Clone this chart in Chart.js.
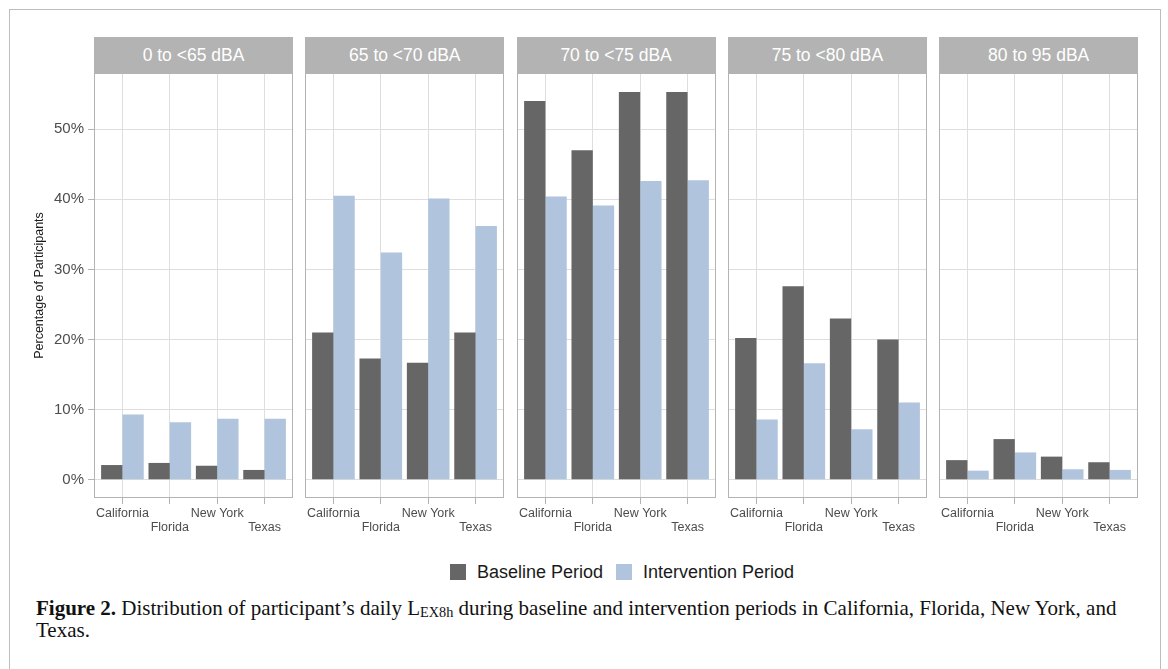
<!DOCTYPE html>
<html>
<head>
<meta charset="utf-8">
<script src="https://cdn.jsdelivr.net/npm/chart.js@4.4.1/dist/chart.umd.min.js"></script>
<style>
    body { margin: 0; background: #fff; width: 1168px; height: 669px; overflow: hidden; position: relative; font-family: "Liberation Sans", Arial, Helvetica, sans-serif; }
    .frame { position: absolute; left: 9px; top: 9px; width: 1152px; height: 720px; box-sizing: border-box; border: 1px solid #bdbdbd; }
    .strip { position: absolute; top: 37px; height: 36px; width: 199px; background: #b3b3b3; color: #fff; font-size: 17.5px; line-height: 36px; text-align: center; }
    canvas.panel { position: absolute; top: 72px; }
    .legend { position: absolute; top: 562px; font-size: 18px; color: #1a1a1a; line-height: 20px; }
    .legend .key { position: absolute; top: 2px; width: 16px; height: 16px; }
    .legend .lab { position: absolute; top: 0; white-space: nowrap; }
    .caption { position: absolute; left: 36px; top: 597px; font-family: "Liberation Serif", "Times New Roman", serif; font-size: 21px; line-height: 22px; color: #111; white-space: nowrap; }
    .caption sub { font-size: 0.68em; vertical-align: -0.15em; line-height: 0; }
</style>
</head>
<body>
<div class="frame"></div>
<div id="strips"></div>
<div id="panels"></div>

<div class="legend">
    <div class="key" style="left:450px; background:#666666"></div>
    <div class="lab" style="left:477px">Baseline Period</div>
    <div class="key" style="left:616px; background:#b0c4de"></div>
    <div class="lab" style="left:643px">Intervention Period</div>
</div>

<div class="caption"><b>Figure 2.</b> Distribution of participant’s daily L<sub>EX8h</sub> during baseline and intervention periods in California, Florida, New York, and<br>Texas.</div>

<script>
const states = ['California', 'Florida', 'New York', 'Texas'];
const bins = ['0 to <65 dBA', '65 to <70 dBA', '70 to <75 dBA', '75 to <80 dBA', '80 to 95 dBA'];
const yTicks = [0, 10, 20, 30, 40, 50];

// percentage of participants, per state, in each exposure bin
const baseUnder65 = [2.1, 2.4, 2.0, 1.4];
const base65to70  = [21.0, 17.3, 16.7, 21.0];
const base70to75  = [54.0, 47.0, 55.3, 55.3];
const base75to80  = [20.2, 27.6, 23.0, 20.0];
const base80to95  = [2.8, 5.8, 3.3, 2.5];

const intUnder65  = [9.3, 8.2, 8.7, 8.7];
const int65to70   = [40.5, 32.4, 40.1, 36.2];
const int70to75   = [40.4, 39.1, 42.6, 42.7];
const int75to80   = [8.6, 16.6, 7.2, 11.0];
const int80to95   = [1.3, 3.9, 1.5, 1.4];

const baseline = [baseUnder65, base65to70, base70to75, base75to80, base80to95];
const intervention = [intUnder65, int65to70, int70to75, int75to80, int80to95];

const FONT = '"Liberation Sans", Arial, Helvetica, sans-serif';
const PANEL_W = 199;
const panelLeft = i => 94 + i * 211.3;

// panel border like ggplot's theme_light
const panelBorder = {
    id: 'panelBorder',
    afterDraw(chart) {
        const a = chart.chartArea;
        const c = chart.ctx;
        c.save();
        c.strokeStyle = '#b3b3b3';
        c.lineWidth = 1;
        c.strokeRect(Math.round(a.left) + 0.5, Math.round(a.top) + 0.5,
            Math.round(a.right - a.left) - 1, Math.round(a.bottom - a.top) - 1);
        c.restore();
    }
};

bins.forEach((bin, i) => {
    const strip = document.createElement('div');
    strip.className = 'strip';
    strip.style.left = panelLeft(i) + 'px';
    strip.textContent = bin;
    document.getElementById('strips').appendChild(strip);

    const first = i === 0;
    const left = first ? 28 : panelLeft(i) - 1;
    const width = first ? Math.round(panelLeft(0) + PANEL_W + 1 - 28) : PANEL_W + 2;

    const canvas = document.createElement('canvas');
    canvas.className = 'panel';
    canvas.width = width;
    canvas.height = 476;
    canvas.style.left = left + 'px';
    document.getElementById('panels').appendChild(canvas);

    new Chart(canvas.getContext('2d'), {
        type: 'bar',
        data: {
            datasets: [
                {
                    label: 'Baseline Period',
                    data: baseline[i].map((v, k) => ({ x: k, y: v })),
                    backgroundColor: '#666666'
                },
                {
                    label: 'Intervention Period',
                    data: intervention[i].map((v, k) => ({ x: k, y: v })),
                    backgroundColor: '#b0c4de'
                }
            ]
        },
        options: {
            responsive: false,
            animation: false,
            layout: { padding: { top: 1, right: 1, left: first ? 0 : 1, bottom: 0 } },
            datasets: { bar: { categoryPercentage: 0.9, barPercentage: 1.0, borderWidth: 0 } },
            plugins: {
                legend: { display: false },
                tooltip: { enabled: false }
            },
            scales: {
                x: {
                    type: 'linear',
                    min: -0.6,
                    max: 3.6,
                    offset: false,
                    afterBuildTicks: s => { s.ticks = states.map((_, k) => ({ value: k })); },
                    afterFit: s => { s.height = 50; s.paddingLeft = 0; s.paddingRight = 0; },
                    grid: { offset: false, color: '#dedede', lineWidth: 1, tickLength: 6, tickColor: '#b3b3b3' },
                    border: { display: false },
                    ticks: {
                        autoSkip: false,
                        maxRotation: 0,
                        minRotation: 0,
                        padding: 3,
                        color: '#4d4d4d',
                        font: { family: FONT, size: 12.5, lineHeight: 1.12 },
                        callback: v => (v % 2 === 0 ? [states[v], ''] : ['', states[v]])
                    }
                },
                y: {
                    min: -2.6,
                    max: 58,
                    afterBuildTicks: s => { s.ticks = yTicks.map(v => ({ value: v })); },
                    afterFit: s => { s.width = first ? 66 : 0; s.paddingTop = 0; s.paddingBottom = 0; },
                    grid: { color: '#dedede', lineWidth: 1, drawTicks: first, tickLength: 6, tickColor: '#b3b3b3' },
                    border: { display: false },
                    ticks: {
                        display: first,
                        padding: 4,
                        color: '#4d4d4d',
                        font: { family: FONT, size: 15 },
                        callback: v => v + '%'
                    },
                    title: {
                        display: first,
                        text: 'Percentage of Participants',
                        color: '#1a1a1a',
                        padding: { top: 4, bottom: 0 },
                        font: { family: FONT, size: 12.5 }
                    }
                }
            }
        },
        plugins: [panelBorder]
    });
});
</script>
</body>
</html>
